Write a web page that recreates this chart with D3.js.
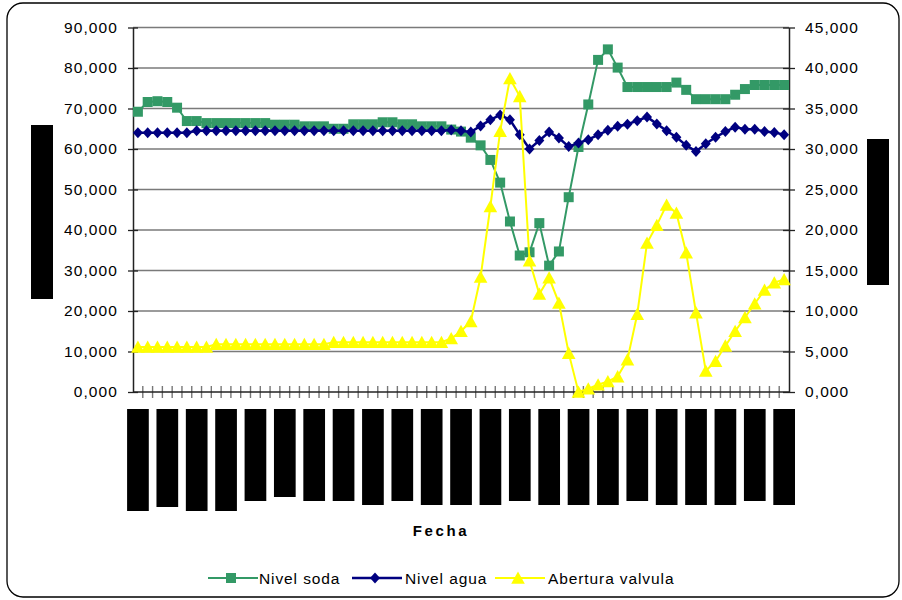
<!DOCTYPE html>
<html>
<head>
<meta charset="utf-8">
<script src="https://cdn.jsdelivr.net/npm/d3@7"></script>
<style>
  body { margin: 0; background: #fff; }
  text { font-family: "Liberation Sans", Arial, sans-serif; fill: #000; }
</style>
</head>
<body>
<div id="chart"></div>
<script>
// Nivel soda (left axis)
const nivelSoda = [69.2, 71.6, 71.8, 71.6, 70.2, 66.9, 66.9, 66.4, 66.4, 66.4,
    66.4, 66.4, 66.4, 66.4, 66.0, 66.0, 66.0, 65.6, 65.6, 65.6,
    65.0, 65.0, 66.1, 66.1, 66.1, 66.6, 66.6, 66.1, 66.1, 65.6,
    65.6, 65.6, 64.8, 64.3, 62.8, 60.9, 57.3, 51.7, 42.1, 33.7,
    34.5, 41.7, 31.2, 34.7, 48.1, 60.5, 71.0, 82.0, 84.6, 80.1,
    75.3, 75.3, 75.3, 75.3, 75.3, 76.4, 74.6, 72.3, 72.3, 72.3,
    72.3, 73.4, 74.8, 75.8, 75.8, 75.8, 75.8];

// Nivel agua (left axis)
const nivelAgua = [64.0, 64.0, 64.0, 64.0, 64.0, 64.0, 64.5, 64.5, 64.5, 64.5,
    64.5, 64.5, 64.5, 64.5, 64.5, 64.5, 64.5, 64.5, 64.5, 64.5,
    64.5, 64.5, 64.5, 64.5, 64.5, 64.5, 64.5, 64.5, 64.5, 64.5,
    64.5, 64.5, 64.7, 64.5, 64.2, 65.7, 67.2, 68.4, 67.2, 63.5,
    60.0, 62.1, 64.2, 62.7, 60.6, 61.5, 62.3, 63.5, 64.6, 65.6,
    66.1, 67.0, 67.9, 66.2, 64.5, 62.9, 60.9, 59.4, 61.3, 62.9,
    64.3, 65.4, 64.9, 64.9, 64.3, 64.1, 63.5];

// Abertura valvula (right axis)
const aberturaValvula = [5.55, 5.55, 5.55, 5.55, 5.55, 5.55, 5.55, 5.55, 5.9, 5.9,
    5.9, 5.9, 5.9, 5.9, 5.9, 5.9, 5.9, 5.9, 5.9, 5.9,
    6.15, 6.15, 6.15, 6.15, 6.15, 6.15, 6.15, 6.15, 6.15, 6.15,
    6.15, 6.15, 6.6, 7.5, 8.7, 14.2, 22.9, 32.2, 38.7, 36.5,
    16.2, 12.1, 14.1, 11.0, 4.8, 0.0, 0.4, 0.9, 1.3, 1.9,
    4.0, 9.6, 18.4, 20.6, 23.1, 22.1, 17.2, 9.8, 2.6, 3.8,
    5.7, 7.5, 9.2, 10.9, 12.6, 13.5, 13.9];

// one category per reading (the dates are blacked out in the picture)
const fechas = nivelSoda.map((d, i) => i);
const leftTicks = [0, 10, 20, 30, 40, 50, 60, 70, 80, 90];
const rightTicks = [0, 5, 10, 15, 20, 25, 30, 35, 40, 45];
const labelEvery = 3;
// bottom edges of the blacked-out date labels
const labelBoxBottom = [511, 507, 511, 511, 501, 497, 501, 501, 505, 501, 505, 505,
    505, 501, 505, 505, 505, 501, 505, 505, 505, 501, 505];

const series = [
    { name: "Nivel soda", values: nivelSoda, color: "#339966", symbol: "square", axis: "left", width: 2 },
    { name: "Nivel agua", values: nivelAgua, color: "#000080", symbol: "diamond", axis: "left", width: 2.5 },
    { name: "Abertura valvula", values: aberturaValvula, color: "#FFFF00", symbol: "triangle", axis: "right", width: 2 }
];

const width = 902;
const height = 600;
const plot = { left: 133, right: 789, top: 27.5, bottom: 392 };

// european style: decimal comma, e.g. 90,000
const fmtEu = v => v.toFixed(3).replace(".", ",");

const svg = d3.select("#chart").append("svg")
    .attr("width", width)
    .attr("height", height);

// outer frame
svg.append("rect")
    .attr("x", 7).attr("y", 3)
    .attr("width", 892).attr("height", 594)
    .attr("rx", 16)
    .attr("fill", "#fff")
    .attr("stroke", "#000")
    .attr("stroke-width", 1.3);

const x = d3.scaleBand()
    .domain(fechas)
    .range([plot.left, plot.right])
    .padding(0);
const cx = i => x(i) + x.bandwidth() / 2;

const yLeft = d3.scaleLinear().domain([0, 90]).range([plot.bottom, plot.top]);
const yRight = d3.scaleLinear().domain([0, 45]).range([plot.bottom, plot.top]);

// gridlines
svg.append("g")
    .selectAll("line")
    .data(leftTicks.slice(1))
    .join("line")
    .attr("x1", plot.left).attr("x2", plot.right)
    .attr("y1", d => yLeft(d)).attr("y2", d => yLeft(d))
    .attr("stroke", "#7a7a7a")
    .attr("stroke-width", 1.3);

// left axis
const leftAxis = svg.append("g")
    .attr("transform", `translate(${plot.left},0)`)
    .call(d3.axisLeft(yLeft).tickValues(leftTicks).tickFormat(fmtEu).tickSizeInner(5).tickSizeOuter(0).tickPadding(10));
leftAxis.selectAll(".tick line").attr("x2", 5).attr("x1", -5);

// right axis
const rightAxis = svg.append("g")
    .attr("transform", `translate(${plot.right},0)`)
    .call(d3.axisRight(yRight).tickValues(rightTicks).tickFormat(fmtEu).tickSizeInner(5).tickSizeOuter(0).tickPadding(11));
rightAxis.selectAll(".tick line").attr("x1", -6).attr("x2", 6);

[leftAxis, rightAxis].forEach(a => {
    a.select(".domain").attr("stroke", "#222").attr("stroke-width", 1.5);
    a.selectAll(".tick line").attr("stroke", "#222").attr("stroke-width", 1.3);
    a.selectAll(".tick text")
        .style("font-family", '"Liberation Sans", Arial, sans-serif')
        .style("font-size", "15.5px")
        .style("letter-spacing", "1.1px")
        .attr("fill", "#000");
});

// x axis: line and a tick between every category
const xg = svg.append("g");
const boundaries = fechas.map(i => x(i)).concat([plot.right]);
xg.selectAll("line.tick")
    .data(boundaries.slice(1, -1))
    .join("line")
    .attr("class", "tick")
    .attr("x1", d => d).attr("x2", d => d)
    .attr("y1", plot.bottom - 6).attr("y2", plot.bottom + 6)
    .attr("stroke", "#777")
    .attr("stroke-width", 1.4);
xg.append("line")
    .attr("x1", plot.left).attr("x2", plot.right)
    .attr("y1", plot.bottom).attr("y2", plot.bottom)
    .attr("stroke", "#222")
    .attr("stroke-width", 1.5);

// blacked-out date labels
const labelIdx = fechas.filter(i => i % labelEvery === 0);
svg.append("g")
    .selectAll("rect")
    .data(labelIdx)
    .join("rect")
    .attr("x", d => cx(d) - 10.8)
    .attr("y", 409)
    .attr("width", 21.7)
    .attr("height", (d, k) => labelBoxBottom[k] - 409)
    .attr("fill", "#000");

// blacked-out axis titles
svg.append("rect").attr("x", 31).attr("y", 125).attr("width", 22).attr("height", 174).attr("fill", "#000");
svg.append("rect").attr("x", 867).attr("y", 139).attr("width", 22).attr("height", 146).attr("fill", "#000");

svg.append("text")
    .attr("x", 441).attr("y", 536)
    .attr("text-anchor", "middle")
    .style("font-size", "15px")
    .style("font-weight", "bold")
    .style("letter-spacing", "2.6px")
    .text("Fecha");

// marker shapes
const markerPath = {
    square: "M-5,-5H5V5H-5Z",
    diamond: "M0,-5.5L5,0L0,5.5L-5,0Z",
    triangle: "M0,-6.5L6.8,5.8H-6.8Z"
};

// series
series.forEach(s => {
    const y = s.axis === "left" ? yLeft : yRight;
    const line = d3.line()
        .x((d, i) => cx(i))
        .y(d => y(d));
    const g = svg.append("g");
    g.append("path")
        .datum(s.values)
        .attr("d", line)
        .attr("fill", "none")
        .attr("stroke", s.color)
        .attr("stroke-width", s.width);
    g.selectAll("path.marker")
        .data(s.values)
        .join("path")
        .attr("class", "marker")
        .attr("d", markerPath[s.symbol])
        .attr("transform", (d, i) => `translate(${cx(i)},${y(d)})`)
        .attr("fill", s.color);
});

// legend
const legendPos = [{ x: 208, tx: 259 }, { x: 352, tx: 405 }, { x: 495, tx: 548 }];
const legend = svg.append("g").attr("transform", "translate(0, 578)");
series.forEach((s, i) => {
    const g = legend.append("g").attr("transform", `translate(${legendPos[i].x}, 0)`);
    g.append("line").attr("x1", 0).attr("x2", 50).attr("y1", 0).attr("y2", 0)
        .attr("stroke", s.color).attr("stroke-width", s.width);
    g.append("path").attr("d", markerPath[s.symbol])
        .attr("transform", "translate(23,0)")
        .attr("fill", s.color);
    legend.append("text")
        .attr("x", legendPos[i].tx).attr("y", 5.5)
        .style("font-size", "15.5px")
        .style("letter-spacing", "0.9px")
        .text(s.name);
});
</script>
</body>
</html>
